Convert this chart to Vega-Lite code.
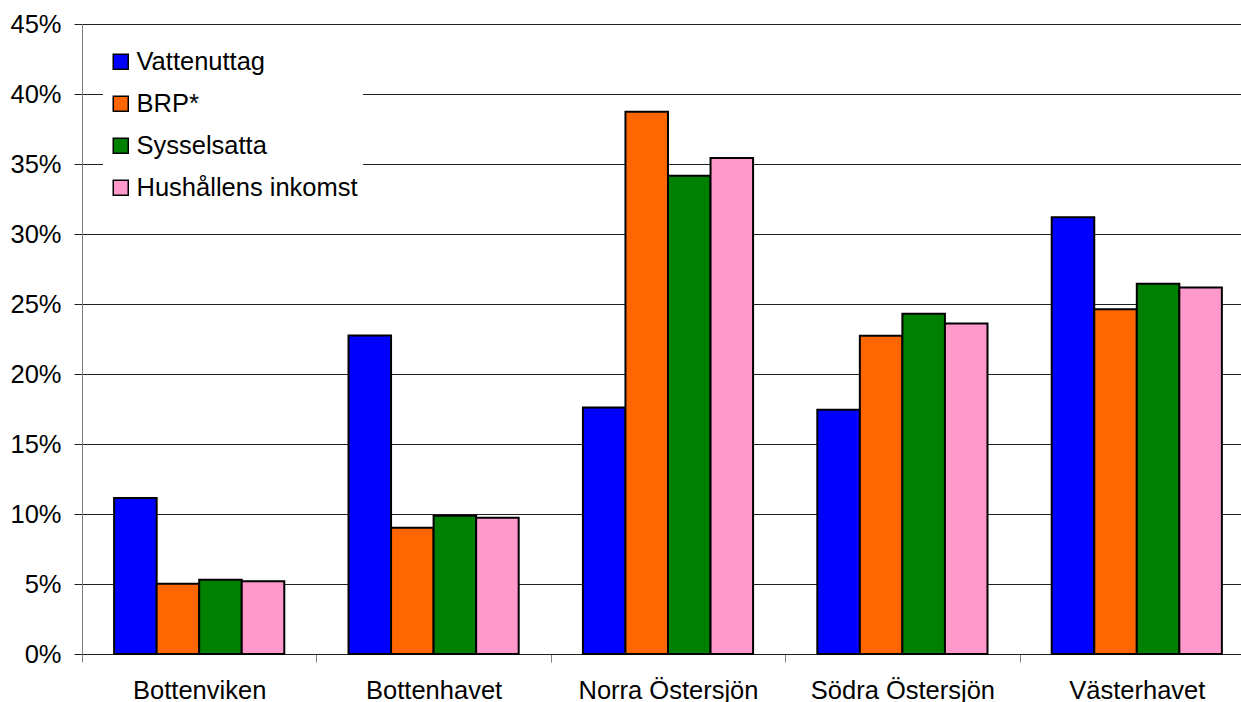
{
  "$schema": "https://vega.github.io/schema/vega-lite/v6.json",
  "autosize": {"type": "none"},
  "padding": {"left": 82, "top": 24, "right": -13, "bottom": 48},
  "width": 1172,
  "height": 630,
  "background": "white",
  "config": {
    "view": {"stroke": null},
    "font": "Liberation Sans"
  },
  "data": {
    "values": [
      {"region": "Bottenviken", "serie": "Vattenuttag", "andel": 11.15},
      {"region": "Bottenviken", "serie": "BRP*", "andel": 5.02},
      {"region": "Bottenviken", "serie": "Sysselsatta", "andel": 5.31},
      {"region": "Bottenviken", "serie": "Hushållens inkomst", "andel": 5.19},
      {"region": "Bottenhavet", "serie": "Vattenuttag", "andel": 22.75},
      {"region": "Bottenhavet", "serie": "BRP*", "andel": 9.02},
      {"region": "Bottenhavet", "serie": "Sysselsatta", "andel": 9.88},
      {"region": "Bottenhavet", "serie": "Hushållens inkomst", "andel": 9.74},
      {"region": "Norra Östersjön", "serie": "Vattenuttag", "andel": 17.6},
      {"region": "Norra Östersjön", "serie": "BRP*", "andel": 38.74},
      {"region": "Norra Östersjön", "serie": "Sysselsatta", "andel": 34.16},
      {"region": "Norra Östersjön", "serie": "Hushållens inkomst", "andel": 35.43},
      {"region": "Södra Östersjön", "serie": "Vattenuttag", "andel": 17.45},
      {"region": "Södra Östersjön", "serie": "BRP*", "andel": 22.74},
      {"region": "Södra Östersjön", "serie": "Sysselsatta", "andel": 24.31},
      {"region": "Södra Östersjön", "serie": "Hushållens inkomst", "andel": 23.6},
      {"region": "Västerhavet", "serie": "Vattenuttag", "andel": 31.19},
      {"region": "Västerhavet", "serie": "BRP*", "andel": 24.62},
      {"region": "Västerhavet", "serie": "Sysselsatta", "andel": 26.45},
      {"region": "Västerhavet", "serie": "Hushållens inkomst", "andel": 26.17}
    ]
  },
  "mark": {"type": "bar", "stroke": "black", "strokeWidth": 2},
  "encoding": {
    "x": {
      "field": "region",
      "type": "nominal",
      "sort": ["Bottenviken", "Bottenhavet", "Norra Östersjön", "Södra Östersjön", "Västerhavet"],
      "scale": {"paddingInner": 0, "paddingOuter": 0},
      "axis": {
        "title": null,
        "labelAngle": 0,
        "labelFontSize": 25.5,
        "labelLimit": 0,
        "labelColor": "black",
        "labelBaseline": "alphabetic",
        "labelPadding": 36,
        "tickBand": "extent",
        "tickSize": 8,
        "tickColor": "#808080",
        "domainColor": "#202020",
        "grid": false
      }
    },
    "xOffset": {
      "field": "serie",
      "type": "nominal",
      "sort": ["Vattenuttag", "BRP*", "Sysselsatta", "Hushållens inkomst"],
      "scale": {"paddingInner": 0, "paddingOuter": 0.755}
    },
    "y": {
      "field": "andel",
      "type": "quantitative",
      "scale": {"domain": [0, 45], "nice": false},
      "axis": {
        "title": null,
        "values": [0, 5, 10, 15, 20, 25, 30, 35, 40, 45],
        "labelExpr": "datum.value + '%'",
        "labelFontSize": 25.5,
        "labelColor": "black",
        "labelPadding": 13,
        "tickSize": 8,
        "tickColor": "#202020",
        "domainColor": "#808080",
        "grid": true,
        "gridColor": "#202020",
        "gridWidth": 1
      }
    },
    "color": {
      "field": "serie",
      "type": "nominal",
      "scale": {
        "domain": ["Vattenuttag", "BRP*", "Sysselsatta", "Hushållens inkomst"],
        "range": ["#0000FF", "#FF6600", "#008000", "#FF99CC"]
      },
      "legend": {
        "title": null,
        "orient": "none",
        "legendX": 21,
        "legendY": 20,
        "padding": 5,
        "fillColor": "white",
        "symbolType": "square",
        "symbolSize": 225,
        "symbolStrokeColor": "black",
        "symbolStrokeWidth": 1.5,
        "symbolOpacity": 1,
        "labelFontSize": 25.5,
        "labelLimit": 0,
        "labelColor": "black",
        "labelOffset": 3,
        "rowPadding": 15
      }
    }
  }
}
